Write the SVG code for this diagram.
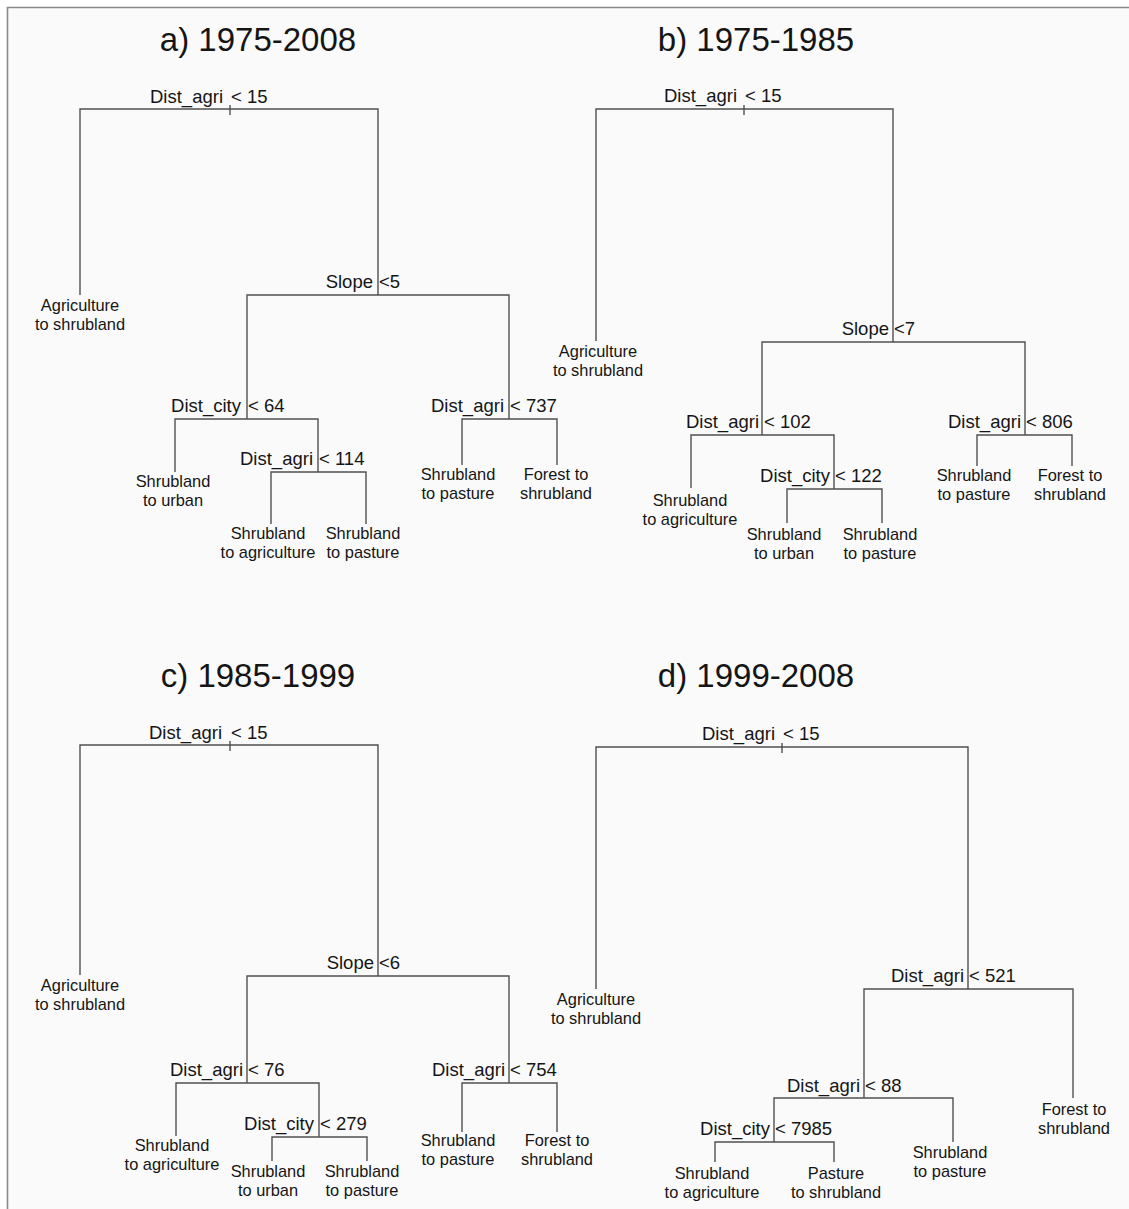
<svg xmlns="http://www.w3.org/2000/svg" width="1129" height="1209" viewBox="0 0 1129 1209">
  <style>
    text { font-family: "Liberation Sans", Arial, sans-serif; fill: #151515; }
    .title { font-size: 33px; text-anchor: middle; }
    .split { font-size: 18.5px; }
    .name { text-anchor: end; }
    .leaf { font-size: 16.4px; text-anchor: middle; }
    .edge { fill: none; stroke: #505050; stroke-width: 1.4; }
  </style>

  <!-- page and frame -->
  <rect x="0" y="0" width="1129" height="1209" fill="#ffffff"/>
  <rect x="7" y="7" width="1122" height="1202" fill="#fafafa"/>
  <path d="M7.5 1209 V7.5 H1129" fill="none" stroke="#8a8a8a" stroke-width="1.6"/>

  <!-- panel titles -->
  <g id="titles">
    <text class="title" x="258" y="51">a) 1975-2008</text>
    <text class="title" x="756" y="51">b) 1975-1985</text>
    <text class="title" x="258" y="687">c) 1985-1999</text>
    <text class="title" x="756" y="687">d) 1999-2008</text>
  </g>

  <!-- branches of all four trees -->
  <g id="connectors" class="edge">
    <!-- tree a -->
    <path d="M230 105 V115"/>
    <path d="M80 295 V109 H378 V295"/>
    <path d="M247 419 V295 H509 V419"/>
    <path d="M175 472 V419 H318 V472"/>
    <path d="M271 524 V472 H366 V524"/>
    <path d="M462 465 V419 H557 V465"/>
    <!-- tree b -->
    <path d="M744 105 V115"/>
    <path d="M596 341 V109 H893 V342"/>
    <path d="M762 435 V342 H1025 V435"/>
    <path d="M691 488 V435 H834 V489"/>
    <path d="M787 523 V489 H882 V523"/>
    <path d="M977 466 V435 H1072 V466"/>
    <!-- tree c -->
    <path d="M230 741 V751"/>
    <path d="M80 975 V745 H378 V976"/>
    <path d="M247 1083 V976 H509 V1083"/>
    <path d="M176 1136 V1083 H319 V1137"/>
    <path d="M272 1161 V1137 H367 V1161"/>
    <path d="M462 1132 V1083 H557 V1132"/>
    <!-- tree d -->
    <path d="M782 743 V753"/>
    <path d="M596 989 V747 H968 V989"/>
    <path d="M864 1098 V989 H1073 V1098"/>
    <path d="M774 1142 V1098 H953 V1142"/>
    <path d="M715 1162 V1142 H834 V1162"/>
  </g>

  <!-- tree a: 1975-2008 -->
  <g id="a-root" class="split"><text class="name" x="223" y="103">Dist_agri</text><text x="231" y="103">&lt; 15</text></g>
  <g id="a-slope" class="split"><text class="name" x="373" y="288">Slope</text><text x="379" y="288">&lt;5</text></g>
  <g id="a-city" class="split"><text class="name" x="241" y="412">Dist_city</text><text x="248" y="412">&lt; 64</text></g>
  <g id="a-agri114" class="split"><text class="name" x="313" y="465">Dist_agri</text><text x="319" y="465">&lt; 114</text></g>
  <g id="a-agri737" class="split"><text class="name" x="504" y="412">Dist_agri</text><text x="510" y="412">&lt; 737</text></g>
  <g id="a-leaf1" class="leaf"><text x="80" y="311">Agriculture</text><text x="80" y="330">to shrubland</text></g>
  <g id="a-leaf2" class="leaf"><text x="173" y="487">Shrubland</text><text x="173" y="506">to urban</text></g>
  <g id="a-leaf3" class="leaf"><text x="268" y="539">Shrubland</text><text x="268" y="558">to agriculture</text></g>
  <g id="a-leaf4" class="leaf"><text x="363" y="539">Shrubland</text><text x="363" y="558">to pasture</text></g>
  <g id="a-leaf5" class="leaf"><text x="458" y="480">Shrubland</text><text x="458" y="499">to pasture</text></g>
  <g id="a-leaf6" class="leaf"><text x="556" y="480">Forest to</text><text x="556" y="499">shrubland</text></g>

  <!-- tree b: 1975-1985 -->
  <g id="b-root" class="split"><text class="name" x="737" y="102">Dist_agri</text><text x="745" y="102">&lt; 15</text></g>
  <g id="b-slope" class="split"><text class="name" x="889" y="335">Slope</text><text x="894" y="335">&lt;7</text></g>
  <g id="b-agri102" class="split"><text class="name" x="759" y="428">Dist_agri</text><text x="764" y="428">&lt; 102</text></g>
  <g id="b-city" class="split"><text class="name" x="830" y="482">Dist_city</text><text x="835" y="482">&lt; 122</text></g>
  <g id="b-agri806" class="split"><text class="name" x="1021" y="428">Dist_agri</text><text x="1026" y="428">&lt; 806</text></g>
  <g id="b-leaf1" class="leaf"><text x="598" y="357">Agriculture</text><text x="598" y="376">to shrubland</text></g>
  <g id="b-leaf2" class="leaf"><text x="690" y="506">Shrubland</text><text x="690" y="525">to agriculture</text></g>
  <g id="b-leaf3" class="leaf"><text x="784" y="540">Shrubland</text><text x="784" y="559">to urban</text></g>
  <g id="b-leaf4" class="leaf"><text x="880" y="540">Shrubland</text><text x="880" y="559">to pasture</text></g>
  <g id="b-leaf5" class="leaf"><text x="974" y="481">Shrubland</text><text x="974" y="500">to pasture</text></g>
  <g id="b-leaf6" class="leaf"><text x="1070" y="481">Forest to</text><text x="1070" y="500">shrubland</text></g>

  <!-- tree c: 1985-1999 -->
  <g id="c-root" class="split"><text class="name" x="222" y="739">Dist_agri</text><text x="231" y="739">&lt; 15</text></g>
  <g id="c-slope" class="split"><text class="name" x="374" y="969">Slope</text><text x="379" y="969">&lt;6</text></g>
  <g id="c-agri76" class="split"><text class="name" x="243" y="1076">Dist_agri</text><text x="248" y="1076">&lt; 76</text></g>
  <g id="c-city" class="split"><text class="name" x="314" y="1130">Dist_city</text><text x="320" y="1130">&lt; 279</text></g>
  <g id="c-agri754" class="split"><text class="name" x="505" y="1076">Dist_agri</text><text x="510" y="1076">&lt; 754</text></g>
  <g id="c-leaf1" class="leaf"><text x="80" y="991">Agriculture</text><text x="80" y="1010">to shrubland</text></g>
  <g id="c-leaf2" class="leaf"><text x="172" y="1151">Shrubland</text><text x="172" y="1170">to agriculture</text></g>
  <g id="c-leaf3" class="leaf"><text x="268" y="1177">Shrubland</text><text x="268" y="1196">to urban</text></g>
  <g id="c-leaf4" class="leaf"><text x="362" y="1177">Shrubland</text><text x="362" y="1196">to pasture</text></g>
  <g id="c-leaf5" class="leaf"><text x="458" y="1146">Shrubland</text><text x="458" y="1165">to pasture</text></g>
  <g id="c-leaf6" class="leaf"><text x="557" y="1146">Forest to</text><text x="557" y="1165">shrubland</text></g>

  <!-- tree d: 1999-2008 -->
  <g id="d-root" class="split"><text class="name" x="775" y="740">Dist_agri</text><text x="783" y="740">&lt; 15</text></g>
  <g id="d-agri521" class="split"><text class="name" x="964" y="982">Dist_agri</text><text x="969" y="982">&lt; 521</text></g>
  <g id="d-agri88" class="split"><text class="name" x="860" y="1092">Dist_agri</text><text x="865" y="1092">&lt; 88</text></g>
  <g id="d-city" class="split"><text class="name" x="770" y="1135">Dist_city</text><text x="775" y="1135">&lt; 7985</text></g>
  <g id="d-leaf1" class="leaf"><text x="596" y="1005">Agriculture</text><text x="596" y="1024">to shrubland</text></g>
  <g id="d-leaf2" class="leaf"><text x="1074" y="1115">Forest to</text><text x="1074" y="1134">shrubland</text></g>
  <g id="d-leaf3" class="leaf"><text x="712" y="1179">Shrubland</text><text x="712" y="1198">to agriculture</text></g>
  <g id="d-leaf4" class="leaf"><text x="836" y="1179">Pasture</text><text x="836" y="1198">to shrubland</text></g>
  <g id="d-leaf5" class="leaf"><text x="950" y="1158">Shrubland</text><text x="950" y="1177">to pasture</text></g>
</svg>
